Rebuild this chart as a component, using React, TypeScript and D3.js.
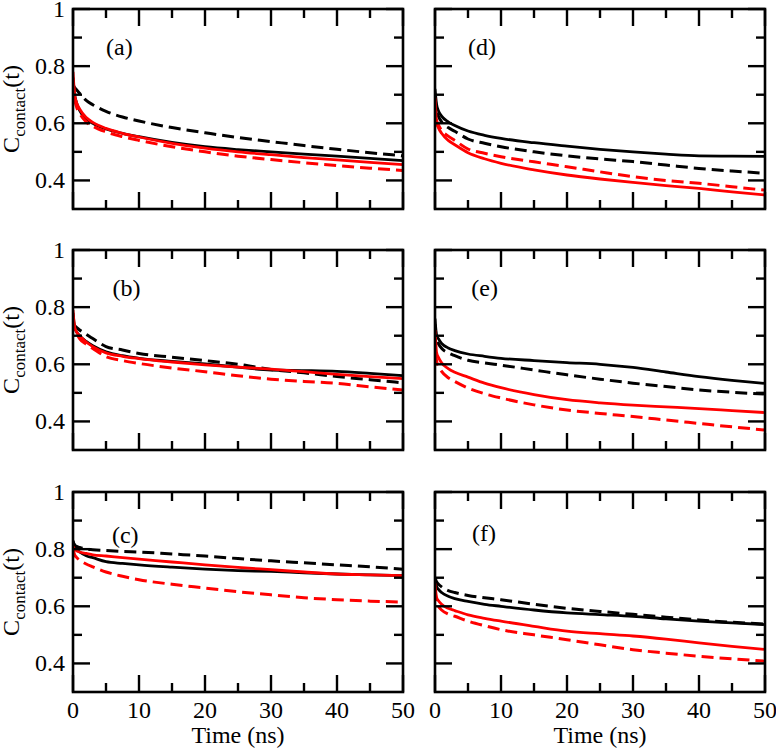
import { useEffect } from "react";
import * as d3 from "d3";

// shared time grid (ns)
const TIMES = [0, 0.25, 0.5, 1, 2, 3, 5, 7.5, 10, 15, 20, 25, 30, 35, 40, 45, 50];

// panel (a)
const A_BLACK_SOLID = [0.76, 0.70, 0.675, 0.645, 0.615, 0.60, 0.58, 0.565, 0.553, 0.533, 0.518, 0.508, 0.50, 0.492, 0.485, 0.477, 0.469];
const A_BLACK_DASH  = [0.735, 0.725, 0.718, 0.705, 0.68, 0.665, 0.642, 0.622, 0.608, 0.585, 0.567, 0.55, 0.536, 0.522, 0.509, 0.497, 0.486];
const A_RED_SOLID   = [0.78, 0.70, 0.675, 0.65, 0.62, 0.603, 0.582, 0.565, 0.552, 0.53, 0.513, 0.50, 0.49, 0.48, 0.472, 0.463, 0.455];
const A_RED_DASH    = [0.75, 0.685, 0.66, 0.635, 0.605, 0.59, 0.57, 0.553, 0.54, 0.518, 0.50, 0.485, 0.473, 0.462, 0.452, 0.443, 0.435];

// panel (b)
const B_BLACK_SOLID = [0.78, 0.73, 0.715, 0.70, 0.68, 0.665, 0.644, 0.63, 0.621, 0.61, 0.601, 0.59, 0.58, 0.578, 0.575, 0.568, 0.56];
const B_BLACK_DASH  = [0.745, 0.735, 0.73, 0.72, 0.705, 0.69, 0.662, 0.65, 0.638, 0.625, 0.613, 0.60, 0.582, 0.57, 0.557, 0.546, 0.535];
const B_RED_SOLID   = [0.79, 0.73, 0.715, 0.70, 0.678, 0.662, 0.64, 0.628, 0.62, 0.608, 0.598, 0.59, 0.583, 0.574, 0.565, 0.557, 0.55];
const B_RED_DASH    = [0.76, 0.725, 0.71, 0.69, 0.67, 0.655, 0.627, 0.613, 0.603, 0.587, 0.574, 0.56, 0.548, 0.54, 0.533, 0.521, 0.51];

// panel (c)
const C_BLACK_SOLID = [0.83, 0.81, 0.80, 0.79, 0.777, 0.77, 0.756, 0.75, 0.745, 0.737, 0.73, 0.725, 0.722, 0.717, 0.713, 0.71, 0.707];
const C_BLACK_DASH  = [0.825, 0.815, 0.81, 0.806, 0.80, 0.798, 0.795, 0.792, 0.79, 0.783, 0.776, 0.767, 0.759, 0.752, 0.745, 0.738, 0.73];
const C_RED_SOLID   = [0.81, 0.80, 0.795, 0.79, 0.785, 0.78, 0.776, 0.77, 0.765, 0.755, 0.745, 0.736, 0.728, 0.72, 0.713, 0.71, 0.707];
const C_RED_DASH    = [0.80, 0.78, 0.772, 0.762, 0.748, 0.738, 0.72, 0.705, 0.693, 0.677, 0.664, 0.651, 0.64, 0.63, 0.623, 0.618, 0.615];

// panel (d)
const D_BLACK_SOLID = [0.72, 0.665, 0.645, 0.625, 0.605, 0.592, 0.573, 0.558, 0.547, 0.532, 0.52, 0.509, 0.50, 0.492, 0.486, 0.485, 0.484];
const D_BLACK_DASH  = [0.70, 0.64, 0.625, 0.605, 0.585, 0.572, 0.545, 0.53, 0.518, 0.50, 0.486, 0.475, 0.466, 0.454, 0.442, 0.433, 0.425];
const D_RED_SOLID   = [0.69, 0.60, 0.585, 0.565, 0.54, 0.525, 0.497, 0.476, 0.46, 0.437, 0.419, 0.405, 0.393, 0.382, 0.372, 0.36, 0.349];
const D_RED_DASH    = [0.68, 0.61, 0.595, 0.575, 0.555, 0.54, 0.51, 0.495, 0.483, 0.465, 0.448, 0.43, 0.413, 0.40, 0.39, 0.378, 0.366];

// panel (e)
const E_BLACK_SOLID = [0.76, 0.70, 0.69, 0.673, 0.657, 0.648, 0.636, 0.628, 0.621, 0.613, 0.606, 0.60, 0.589, 0.573, 0.557, 0.544, 0.533];
const E_BLACK_DASH  = [0.74, 0.685, 0.673, 0.656, 0.64, 0.63, 0.614, 0.605, 0.597, 0.58, 0.563, 0.548, 0.534, 0.522, 0.51, 0.502, 0.496];
const E_RED_SOLID   = [0.72, 0.64, 0.625, 0.605, 0.585, 0.572, 0.555, 0.534, 0.518, 0.494, 0.476, 0.465, 0.457, 0.451, 0.445, 0.438, 0.431];
const E_RED_DASH    = [0.70, 0.61, 0.595, 0.575, 0.553, 0.54, 0.517, 0.497, 0.482, 0.458, 0.44, 0.428, 0.417, 0.405, 0.393, 0.381, 0.37];

// panel (f)
const F_BLACK_SOLID = [0.70, 0.67, 0.66, 0.648, 0.635, 0.627, 0.617, 0.607, 0.60, 0.587, 0.577, 0.571, 0.565, 0.556, 0.548, 0.542, 0.536];
const F_BLACK_DASH  = [0.70, 0.685, 0.678, 0.668, 0.655, 0.648, 0.638, 0.63, 0.623, 0.607, 0.593, 0.582, 0.572, 0.562, 0.552, 0.544, 0.538];
const F_RED_SOLID   = [0.68, 0.63, 0.62, 0.607, 0.593, 0.585, 0.57, 0.558, 0.548, 0.53, 0.513, 0.504, 0.496, 0.485, 0.472, 0.46, 0.449];
const F_RED_DASH    = [0.66, 0.61, 0.60, 0.587, 0.573, 0.565, 0.548, 0.532, 0.518, 0.50, 0.483, 0.465, 0.448, 0.436, 0.425, 0.416, 0.408];

const X_MAJOR = [0, 10, 20, 30, 40, 50];
const X_MINOR = [5, 15, 25, 35, 45];
const Y_MAJOR = [0.4, 0.6, 0.8, 1];
const Y_MINOR = [0.5, 0.7, 0.9];
const Y_TICK_LABELS = ["0.4", "0.6", "0.8", "1"];
const X_TICK_LABELS = ["0", "10", "20", "30", "40", "50"];

const PANELS = [
  { label: "(a)", col: 0, row: 0, lx: 5, ly: 0.84, series: [A_BLACK_DASH, A_BLACK_SOLID, A_RED_DASH, A_RED_SOLID] },
  { label: "(b)", col: 0, row: 1, lx: 6, ly: 0.84, series: [B_BLACK_DASH, B_BLACK_SOLID, B_RED_DASH, B_RED_SOLID] },
  { label: "(c)", col: 0, row: 2, lx: 5.9, ly: 0.822, series: [C_BLACK_DASH, C_BLACK_SOLID, C_RED_DASH, C_RED_SOLID] },
  { label: "(d)", col: 1, row: 0, lx: 5, ly: 0.84, series: [D_BLACK_DASH, D_BLACK_SOLID, D_RED_DASH, D_RED_SOLID] },
  { label: "(e)", col: 1, row: 1, lx: 5.5, ly: 0.84, series: [E_BLACK_DASH, E_BLACK_SOLID, E_RED_DASH, E_RED_SOLID] },
  { label: "(f)", col: 1, row: 2, lx: 5.6, ly: 0.83, series: [F_BLACK_DASH, F_BLACK_SOLID, F_RED_DASH, F_RED_SOLID] },
];

const STYLES = [
  { color: "#000", dash: "12,6" },
  { color: "#000", dash: null },
  { color: "#ff0000", dash: "12,6" },
  { color: "#ff0000", dash: null },
];

const W = 776, H = 749;
const COL_X = [73, 435];
const ROW_Y = [9, 250, 492];
const PW = 330, PH = 200;
const FONT = "Liberation Serif, Times New Roman, Times, serif";

function Panel({ p }: { p: typeof PANELS[0] }) {
  const x0 = COL_X[p.col], y0 = ROW_Y[p.row];
  const x = d3.scaleLinear().domain([0, 50]).range([0, PW]);
  const y = d3.scaleLinear().domain([0.3, 1]).range([PH, 0]);
  const line = d3.line<number>()
    .x((_, i) => x(TIMES[i]))
    .y(d => y(d))
    .curve(d3.curveMonotoneX);
  const clipId = `clip-${p.col}-${p.row}`;
  const major = 17, minor = 9;
  return (
    <g transform={`translate(${x0},${y0})`}>
      <defs>
        <clipPath id={clipId}><rect x={0} y={0} width={PW} height={PH} /></clipPath>
      </defs>
      <g clipPath={`url(#${clipId})`}>
        {p.series.map((s, i) => (
          <path key={i} d={line(s) ?? ""} fill="none" stroke={STYLES[i].color}
            strokeWidth={i % 2 === 1 ? 2.8 : 3}
            strokeDasharray={STYLES[i].dash ?? undefined} />
        ))}
      </g>
      <g stroke="#000" strokeWidth={2.4}>
        {X_MAJOR.map(t => (
          <g key={`xm${t}`}>
            <line x1={x(t)} x2={x(t)} y1={PH} y2={PH - major} />
            <line x1={x(t)} x2={x(t)} y1={0} y2={major} />
          </g>
        ))}
        {X_MINOR.map(t => (
          <g key={`xn${t}`}>
            <line x1={x(t)} x2={x(t)} y1={PH} y2={PH - minor} />
            <line x1={x(t)} x2={x(t)} y1={0} y2={minor} />
          </g>
        ))}
        {Y_MAJOR.map(v => (
          <g key={`ym${v}`}>
            <line x1={0} x2={major} y1={y(v)} y2={y(v)} />
            <line x1={PW} x2={PW - major} y1={y(v)} y2={y(v)} />
          </g>
        ))}
        {Y_MINOR.map(v => (
          <g key={`yn${v}`}>
            <line x1={0} x2={minor} y1={y(v)} y2={y(v)} />
            <line x1={PW} x2={PW - minor} y1={y(v)} y2={y(v)} />
          </g>
        ))}
      </g>
      <rect x={0} y={0} width={PW} height={PH} fill="none" stroke="#000" strokeWidth={2.6} />
      <text x={x(p.lx)} y={y(p.ly)} fontSize={24} fontFamily={FONT}>{p.label}</text>
      {p.col === 0 && Y_MAJOR.map((v, i) => (
        <text key={`yl${v}`} x={-8} y={y(v) + 8} fontSize={24} fontFamily={FONT} textAnchor="end">
          {Y_TICK_LABELS[i]}
        </text>
      ))}
      {p.col === 0 && (
        <text transform={`translate(${19 - x0},${PH / 2}) rotate(-90)`} textAnchor="middle"
          fontFamily={FONT} fontSize={24}>
          C<tspan fontSize={17} dy={6}>contact</tspan><tspan dy={-6}>(t)</tspan>
        </text>
      )}
      {p.row === 2 && X_MAJOR.map((t, i) => (
        <text key={`xl${t}`} x={x(t)} y={PH + 26} fontSize={24} fontFamily={FONT} textAnchor="middle">
          {X_TICK_LABELS[i]}
        </text>
      ))}
      {p.row === 2 && (
        <text x={PW / 2} y={PH + 51} fontSize={24} fontFamily={FONT} textAnchor="middle">Time (ns)</text>
      )}
    </g>
  );
}

export default function App() {
  useEffect(() => {
    document.body.style.margin = "0";
  }, []);
  return (
    <svg width={W} height={H} style={{ display: "block", background: "#fff" }}>
      {PANELS.map(p => <Panel key={p.label} p={p} />)}
    </svg>
  );
}
